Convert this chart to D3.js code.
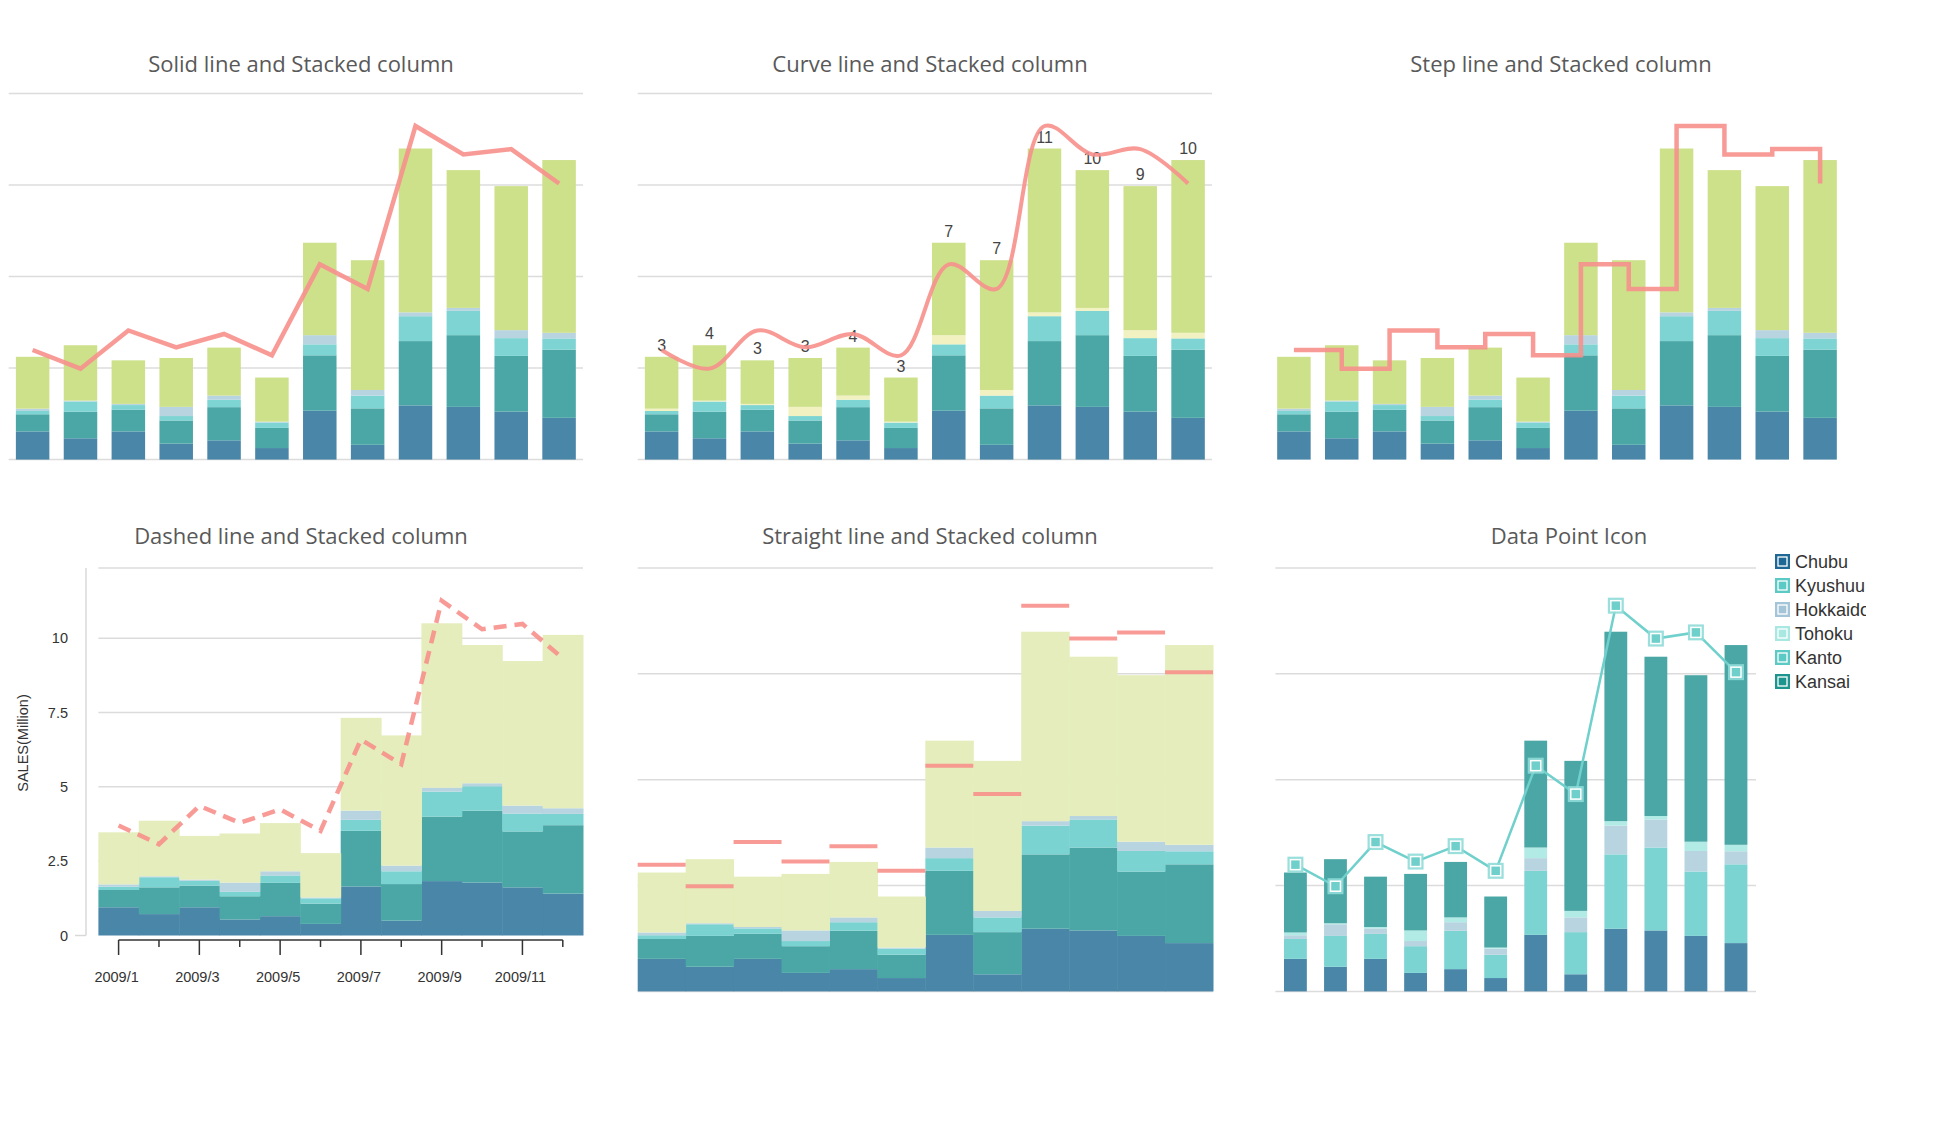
<!DOCTYPE html>
<html><head><meta charset="utf-8">
<script src="https://cdn.jsdelivr.net/npm/d3@7"></script>
<style>body{margin:0;background:#fff;} svg{display:block}</style>
</head><body>
<svg id="c" width="1953" height="1144"></svg>
<script>
// ---- data ----
const months = ["2009/1","2009/2","2009/3","2009/4","2009/5","2009/6","2009/7","2009/8","2009/9","2009/10","2009/11","2009/12"];
const chubu    = [0.95, 0.72, 0.95, 0.54, 0.65, 0.39, 1.65, 0.50, 1.83, 1.78, 1.62, 1.41];
const kyushuu  = [0.58, 0.90, 0.73, 0.78, 1.12, 0.68, 1.87, 1.23, 2.17, 2.42, 1.88, 2.30];
const hokkaido = [0.11, 0.34, 0.16, 0.15, 0.25, 0.18, 0.37, 0.43, 0.84, 0.82, 0.60, 0.38];
const tohoku   = [0.08, 0.03, 0.04, 0.31, 0.14, 0.03, 0.31, 0.19, 0.13, 0.10, 0.27, 0.19];
const kansai   = [1.75, 1.87, 1.47, 1.65, 1.62, 1.49, 3.12, 4.38, 5.53, 4.65, 4.86, 5.83];
const kanto    = [3.70, 3.07, 4.36, 3.79, 4.24, 3.52, 6.59, 5.76, 11.26, 10.30, 10.48, 9.32];
const yTicks = [0, 2.5, 5, 7.5, 10];
const xTickLabels = ["2009/1","2009/3","2009/5","2009/7","2009/9","2009/11"];
const legendNames = ["Chubu","Kyushuu","Hokkaido","Tohoku","Kanto","Kansai"];
const yMax = 12.36;

const stackKeys = ["Chubu","Kyushuu","Hokkaido","Tohoku","Kansai"];
const seriesByKey = {Chubu: chubu, Kyushuu: kyushuu, Hokkaido: hokkaido, Tohoku: tohoku, Kansai: kansai, Kanto: kanto};
const rows = months.map((m, i) => {
  const r = {month: m};
  stackKeys.forEach(k => r[k] = seriesByKey[k][i]);
  return r;
});
const stacked = d3.stack().keys(stackKeys)(rows);

// palettes
const palA = {Chubu:"#4a86a8", Kyushuu:"#4aa7a5", Hokkaido:"#7dd4d2", Tohoku:"#b8d4e0", Kansai:"#cde08a"};
const palA2 = {Chubu:"#4a86a8", Kyushuu:"#4aa7a5", Hokkaido:"#7dd4d2", Tohoku:"#f1f1c2", Kansai:"#cde08a"};
const palB = {Chubu:"#4a86a8", Kyushuu:"#4aa7a5", Hokkaido:"#7bd3d1", Tohoku:"#b8d4e0", Kansai:"#e4edbb"};
const palC = {Chubu:"#4a86a8", Kyushuu:"#7bd4d1", Hokkaido:"#b8d4e0", Tohoku:"#b2ebe5", Kansai:"#4aa7a5"};
const legendColors = {Chubu:"#1f6896", Kyushuu:"#5bc9c4", Hokkaido:"#a4c4d8", Tohoku:"#a9e7e1", Kanto:"#5bc9c4", Kansai:"#1c958e"};
const lineColor = "#f7908c";
const gridColor = "#dcdcdc";
const titleFont = "'Open Sans', sans-serif";
const labelFont = "'Liberation Sans', Arial, sans-serif";

const svg = d3.select("#c");

function panel(o) {
  const g = svg.append("g");
  const x = d3.scaleBand().domain(months).range([o.x0, o.x1]).paddingInner(o.pad).paddingOuter(o.pad / 2);
  const y = d3.scaleLinear().domain([0, yMax]).range([o.y1, o.y0]);
  // title
  g.append("text").attr("x", o.tx).attr("y", o.ty).attr("text-anchor", "middle")
    .attr("font-family", titleFont).attr("font-size", 22).attr("fill", "#595959").text(o.title);
  // grid
  if (o.grid) {
    const gv = o.gridVals || d3.range(5).map(i => yMax * i / 4);
    g.append("g").selectAll("line").data(gv).join("line")
      .attr("x1", o.gx0 !== undefined ? o.gx0 : o.x0).attr("x2", o.x1)
      .attr("y1", d => y(d)).attr("y2", d => y(d))
      .attr("stroke", gridColor).attr("stroke-width", 1.5);
  }
  // stacked columns
  const pal = o.pal;
  const bw = x.bandwidth();
  g.append("g").selectAll("g").data(stacked).join("g")
    .attr("fill", d => pal[d.key])
    .selectAll("rect").data(d => d).join("rect")
      .attr("x", d => x(d.data.month))
      .attr("y", d => y(d[1]))
      .attr("width", bw + (o.pad === 0 ? 0.5 : 0))
      .attr("height", d => Math.max(0, y(d[0]) - y(d[1])));
  const cx = m => x(m) + bw / 2;
  const pts = months.map((m, i) => [cx(m), y(kanto[i])]);
  return {g, x, y, bw, cx, pts};
}

// ---------- Row 1 ----------
const p1 = panel({x0: 8.7, x1: 583, y0: 93.4, y1: 459.6, pad: 0.3, grid: true, pal: palA,
  title: "Solid line and Stacked column", tx: 301, ty: 71.5});
p1.g.append("path").attr("d", d3.line()(p1.pts)).attr("fill", "none")
  .attr("stroke", lineColor).attr("stroke-width", 4.5).attr("stroke-opacity", 0.9).attr("stroke-linejoin", "miter");

const p2 = panel({x0: 637.7, x1: 1212, y0: 93.4, y1: 459.6, pad: 0.3, grid: true, pal: palA2,
  title: "Curve line and Stacked column", tx: 930, ty: 71.5});
const totals = months.map((m, i) => stackKeys.reduce((s, k) => s + seriesByKey[k][i], 0));
p2.g.append("g").selectAll("text").data(months).join("text")
  .attr("x", d => p2.cx(d)).attr("y", (d, i) => p2.y(totals[i]) - 6)
  .attr("text-anchor", "middle").attr("font-family", labelFont).attr("font-size", 16).attr("fill", "#444")
  .text((d, i) => d3.format(".0f")(totals[i]));
p2.g.append("path").attr("d", d3.line().curve(d3.curveCatmullRom.alpha(0.5))(p2.pts)).attr("fill", "none")
  .attr("stroke", lineColor).attr("stroke-width", 4).attr("stroke-opacity", 0.9);

const p3 = panel({x0: 1270, x1: 1844, y0: 93.4, y1: 459.6, pad: 0.3, grid: false, pal: palA,
  title: "Step line and Stacked column", tx: 1561, ty: 71.5});
p3.g.append("path").attr("d", d3.line().curve(d3.curveStepAfter)(p3.pts)).attr("fill", "none")
  .attr("stroke", lineColor).attr("stroke-width", 4.5).attr("stroke-opacity", 0.9);

// ---------- Row 2 ----------
const p4 = panel({x0: 98.4, x1: 583, gx0: 98.4, y0: 568, y1: 935.5, pad: 0, grid: true, pal: palB,
  gridVals: [2.5, 5, 7.5, 10, yMax],
  title: "Dashed line and Stacked column", tx: 301, ty: 543.5});
p4.g.append("path").attr("d", d3.line()(p4.pts)).attr("fill", "none")
  .attr("stroke", lineColor).attr("stroke-width", 4.5).attr("stroke-opacity", 0.9)
  .attr("stroke-dasharray", "13,8");
// y axis
const yAxisG = svg.append("g").attr("transform", "translate(86,0)");
yAxisG.append("line").attr("x1", 0).attr("x2", 0).attr("y1", 568).attr("y2", 935.5)
  .attr("stroke", "#d8d8d8").attr("stroke-width", 1.5);
yAxisG.append("line").attr("x1", -11).attr("x2", 0).attr("y1", p4.y(0)).attr("y2", p4.y(0))
  .attr("stroke", "#d8d8d8").attr("stroke-width", 1.5);
yAxisG.selectAll("text").data(yTicks).join("text")
  .attr("x", -18).attr("y", d => p4.y(d)).attr("dy", "0.35em").attr("text-anchor", "end")
  .attr("font-family", labelFont).attr("font-size", 14.5).attr("fill", "#333").text(d => d);
svg.append("text").attr("transform", "translate(28,743) rotate(-90)").attr("text-anchor", "middle")
  .attr("font-family", labelFont).attr("font-size", 14.5).attr("fill", "#333").text("SALES(Million)");
// x axis
const xAxisG = svg.append("g").attr("transform", "translate(0,940)");
xAxisG.append("line").attr("x1", p4.cx(months[0])).attr("x2", p4.cx(months[11])).attr("y1", 0).attr("y2", 0)
  .attr("stroke", "#333").attr("stroke-width", 1.5);
xAxisG.selectAll("line.tick").data(months).join("line").attr("class", "tick")
  .attr("x1", d => p4.cx(d)).attr("x2", d => p4.cx(d)).attr("y1", 0)
  .attr("y2", d => xTickLabels.includes(d) ? 15 : 7)
  .attr("stroke", "#333").attr("stroke-width", 1.5);
xAxisG.selectAll("text").data(xTickLabels).join("text")
  .attr("x", d => p4.cx(d) - 2).attr("y", 42).attr("text-anchor", "middle")
  .attr("font-family", labelFont).attr("font-size", 14.5).attr("fill", "#333").text(d => d);

const p5 = panel({x0: 637.7, x1: 1213, y0: 568, y1: 991.4, pad: 0, grid: true, pal: palB,
  title: "Straight line and Stacked column", tx: 930, ty: 543.5});
p5.g.append("g").selectAll("line").data(months).join("line")
  .attr("x1", d => p5.x(d)).attr("x2", d => p5.x(d) + p5.bw)
  .attr("y1", (d, i) => p5.y(kanto[i])).attr("y2", (d, i) => p5.y(kanto[i]))
  .attr("stroke", lineColor).attr("stroke-width", 4).attr("stroke-opacity", 0.9);

const p6 = panel({x0: 1275.4, x1: 1756, y0: 568, y1: 991.4, pad: 0.43, grid: true, pal: palC,
  title: "Data Point Icon", tx: 1569, ty: 543.5});
p6.g.append("path").attr("d", d3.line()(p6.pts)).attr("fill", "none")
  .attr("stroke", "#6fd0cc").attr("stroke-width", 2.5);
const mk = p6.g.append("g").selectAll("g").data(p6.pts).join("g")
  .attr("transform", d => `translate(${d[0]},${d[1]})`);
mk.append("rect").attr("x", -8).attr("y", -8).attr("width", 16).attr("height", 16).attr("fill", "#8fdcd8").attr("fill-opacity", 0.9);
mk.append("rect").attr("x", -5).attr("y", -5).attr("width", 10).attr("height", 10).attr("fill", "#6fcfcb")
  .attr("stroke", "#fff").attr("stroke-width", 1.5);

// legend
const clip = svg.append("clipPath").attr("id", "legclip");
clip.append("rect").attr("x", 1770).attr("y", 540).attr("width", 96).attr("height", 170);
const leg = svg.append("g").attr("clip-path", "url(#legclip)");
const li = leg.selectAll("g").data(legendNames).join("g")
  .attr("transform", (d, i) => `translate(1775,${554 + i * 24})`);
li.append("rect").attr("width", 15).attr("height", 15).attr("fill", d => legendColors[d]);
li.append("rect").attr("x", 3).attr("y", 3).attr("width", 9).attr("height", 9).attr("fill", d => legendColors[d])
  .attr("stroke", "#fff").attr("stroke-width", 1.3).attr("fill-opacity", 0.8);
li.append("text").attr("x", 20).attr("y", 7.5).attr("dy", "0.36em")
  .attr("font-family", labelFont).attr("font-size", 18).attr("fill", "#333").text(d => d);
</script>
</body></html>
